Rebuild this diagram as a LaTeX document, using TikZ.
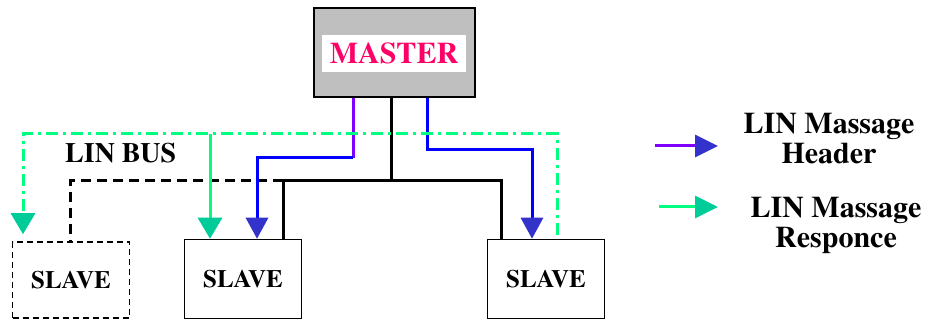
\documentclass[tikz,border=0pt]{standalone}
\usepackage[T1]{fontenc}
\usepackage{times}
\usetikzlibrary{arrows.meta}
\definecolor{mastertxt}{RGB}{255,0,102}
\definecolor{hdrline}{RGB}{128,0,255}
\definecolor{hdrblue}{RGB}{0,0,255}
\definecolor{hdrhead}{RGB}{51,51,204}
\definecolor{rspline}{RGB}{0,255,128}
\definecolor{rsphead}{RGB}{0,204,153}
\begin{document}
\begin{tikzpicture}[x=1pt, y=-1pt,
    box/.style={draw, line width=1.5pt, minimum width=117pt, minimum height=79pt,
                inner sep=0pt, font=\fontsize{25}{25}\selectfont\bfseries},
    bus/.style={line width=3pt},
    hdr/.style={line width=3pt, draw=hdrblue,
                -{Triangle[width=22pt, length=21pt, color=hdrhead]}},
    rsp/.style={line width=3pt, draw=rspline,
                -{Triangle[width=24pt, length=21pt, color=rsphead]}},
    lbl/.style={font=\fontsize{30}{30}\selectfont\bfseries, align=center, inner sep=0pt}]
  \useasboundingbox (0,0) rectangle (930,320);

  % --- Master / slaves ---
  \node[draw, line width=2pt, fill=black!25, minimum width=161pt, minimum height=89pt]
    (master) at (394.5,52.5) {};
  \node[fill=white, text=mastertxt, minimum width=144pt, minimum height=37pt, inner sep=0pt,
        font=\fontsize{30}{30}\selectfont\bfseries] (mastertag) at (394,53.5) {MASTER};
  \node[box, dash pattern=on 6pt off 4pt, minimum height=76pt] (slaveA) at (71,280) {SLAVE};
  \node[box] (slaveB) at (243,279) {SLAVE};
  \node[box] (slaveC) at (546,279) {SLAVE};

  % --- LIN bus ---
  \coordinate (busJ) at (391,181);
  \coordinate (busL) at (283,181);
  \coordinate (busR) at (501,181);
  \coordinate (busD) at (70,181);
  \draw[bus] (master.south -| busJ) -- (busJ);
  \draw[bus] (slaveB.north -| busL) -- (busL) -- (busR) -- (slaveC.north -| busR);
  \draw[bus, dash pattern=on 10pt off 6pt] (busL) -- (busD) -- (slaveA.north -| busD);
  \node[font=\fontsize{28}{28}\selectfont\bfseries, anchor=base west, inner sep=0pt]
    (busname) at (65,163) {LIN BUS};

  % --- Header (master -> slaves) ---
  \coordinate (hdrL) at (353,158);
  \coordinate (hdrLb) at (257,158);
  \coordinate (hdrR) at (427,150);
  \coordinate (hdrRb) at (532,150);
  \draw[line width=3pt, hdrline] (master.south -| hdrL) -- (hdrL);
  \draw[hdr] (hdrL) -- (hdrLb) -- (slaveB.north -| hdrLb);
  \draw[hdr] (master.south -| hdrR) -- (hdrR) -- (hdrRb) -- (slaveC.north -| hdrRb);

  % --- Response ---
  \coordinate (rspL) at (23,134);
  \coordinate (rspM) at (210,134);
  \coordinate (rspR) at (557,134);
  \draw[rsp, dash pattern=on 12pt off 5pt on 3pt off 5pt, shorten >=7pt, shorten <=4pt]
    (slaveC.north -| rspR) -- (rspR) -- (rspL) -- (slaveA.north -| rspL);
  \draw[rsp] (rspM) -- (slaveB.north -| rspM);

  % --- Legend ---
  \coordinate (hk0) at (655,146); \coordinate (hk1) at (718,146);
  \coordinate (rk0) at (659,207); \coordinate (rk1) at (718,207);
  \draw[line width=3pt, hdrline, -{Triangle[width=22pt, length=23pt, color=hdrhead]}] (hk0) -- (hk1);
  \draw[line width=3pt, rspline, -{Triangle[width=22pt, length=23pt, color=rsphead]}] (rk0) -- (rk1);
  \node[lbl] (hdrkey) at (829,138) {LIN Massage\\Header};
  \node[lbl] (rspkey) at (836,225.5) {LIN Massage\\Responce};
\end{tikzpicture}
\end{document}
